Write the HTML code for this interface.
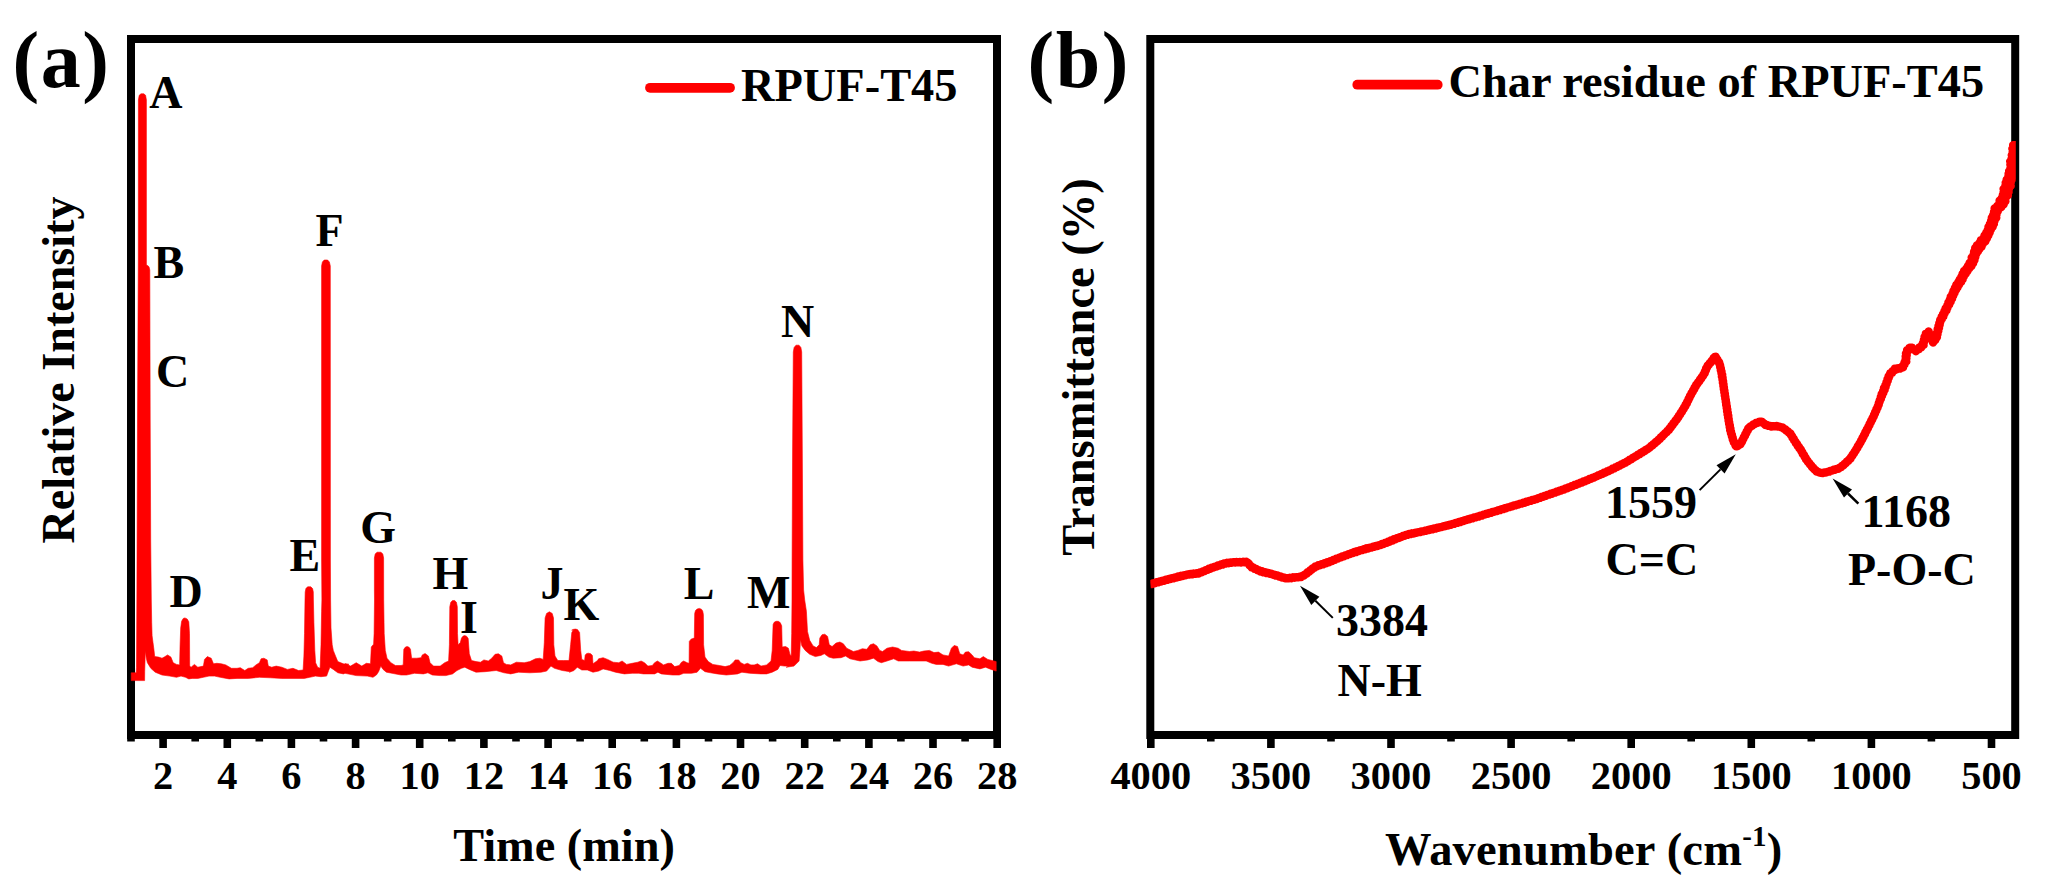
<!DOCTYPE html>
<html lang="en">
<head>
<meta charset="utf-8">
<title>Py-GC/MS chromatogram and FTIR of RPUF-T45 char residue</title>
<style>
html,body{margin:0;padding:0;background:#fff;}
body{width:2055px;height:893px;overflow:hidden;}
svg{display:block;}
text{font-family:"Liberation Serif","Times New Roman",serif;font-weight:bold;fill:#000;}
.tk{font-size:40.4px;text-anchor:middle;}
.lb{font-size:46px;}
.lg{font-size:46.4px;}
.ax{font-size:46.5px;}
.pn{font-size:80px;letter-spacing:1.5px;}
</style>
</head>
<body>
<svg width="2055" height="893" viewBox="0 0 2055 893">
<rect x="0" y="0" width="2055" height="893" fill="#fff"/>

<g id="panel-a">
<rect x="131" y="39" width="866" height="696" fill="none" stroke="#000" stroke-width="8"/>
<path d="M131.0,735 V741.5 M163.1,735 V748 M195.2,735 V741.5 M227.3,735 V748 M259.3,735 V741.5 M291.4,735 V748 M323.5,735 V741.5 M355.6,735 V748 M387.7,735 V741.5 M419.7,735 V748 M451.8,735 V741.5 M483.9,735 V748 M516.0,735 V741.5 M548.1,735 V748 M580.1,735 V741.5 M612.2,735 V748 M644.3,735 V741.5 M676.4,735 V748 M708.5,735 V741.5 M740.5,735 V748 M772.6,735 V741.5 M804.7,735 V748 M836.8,735 V741.5 M868.9,735 V748 M900.9,735 V741.5 M933.0,735 V748 M965.1,735 V741.5 M997.2,735 V748" stroke="#000" stroke-width="7.6" fill="none"/>
<text class="tk" x="163.1" y="789.4">2</text>
<text class="tk" x="227.3" y="789.4">4</text>
<text class="tk" x="291.4" y="789.4">6</text>
<text class="tk" x="355.6" y="789.4">8</text>
<text class="tk" x="419.7" y="789.4">10</text>
<text class="tk" x="483.9" y="789.4">12</text>
<text class="tk" x="548.1" y="789.4">14</text>
<text class="tk" x="612.2" y="789.4">16</text>
<text class="tk" x="676.4" y="789.4">18</text>
<text class="tk" x="740.5" y="789.4">20</text>
<text class="tk" x="804.7" y="789.4">22</text>
<text class="tk" x="868.9" y="789.4">24</text>
<text class="tk" x="933.0" y="789.4">26</text>
<text class="tk" x="997.2" y="789.4">28</text>
<polygon points="131.2,672.8 136.2,672.8 136.5,667.2 136.9,590.0 137.5,420.0 138.3,260.0 138.4,100.0 139.2,95.3 141.0,93.8 143.8,93.8 145.6,95.3 146.4,100.0 146.4,265.0 147.6,265.6 149.0,266.8 149.8,270.0 150.0,350.0 150.2,420.0 150.7,540.0 151.3,600.0 151.7,622.4 152.1,635.8 153.0,642.6 153.9,649.3 154.7,656.6 158.6,657.1 162.0,658.2 164.2,657.1 167.6,654.9 170.9,657.1 173.2,662.7 176.5,664.4 179.6,664.9 180.1,644.8 180.7,628.0 181.6,621.3 183.2,618.5 184.9,617.9 187.2,619.0 188.8,621.8 189.5,633.6 189.7,666.1 191.1,667.2 194.4,664.4 197.8,667.2 203.4,666.1 204.5,659.4 207.3,656.6 211.2,658.2 213.5,663.8 216.8,663.3 221.3,663.8 225.8,664.9 231.4,668.3 237.0,668.3 240.3,667.7 244.8,670.5 248.2,668.3 252.7,667.7 256.0,664.9 259.4,662.7 261.1,658.8 263.9,658.2 267.2,659.9 268.3,666.1 271.7,667.2 276.2,666.1 281.8,667.2 287.4,669.4 293.0,668.3 298.6,670.5 303.1,670.0 303.9,656.0 304.5,633.6 305.0,600.0 305.2,592.0 305.9,588.6 307.6,586.8 310.8,586.8 312.6,588.6 313.3,592.0 313.4,600.0 313.9,622.4 314.8,650.4 315.6,662.7 317.6,667.2 320.1,668.3 321.0,644.8 321.6,611.2 321.9,600.0 321.6,560.0 321.6,266.0 322.4,262.0 324.2,260.0 327.6,260.0 329.4,262.0 330.3,266.0 330.4,560.0 330.6,600.0 331.0,628.0 332.2,644.8 333.3,650.4 335.5,656.0 337.8,661.6 343.4,663.8 349.0,664.4 345.0,663.8 350.6,666.1 356.2,662.7 361.8,666.1 366.3,663.3 370.5,663.8 371.3,647.0 373.6,644.2 374.1,633.6 374.5,600.0 374.4,590.0 374.4,558.0 375.2,554.0 377.0,552.2 381.0,552.2 382.8,554.0 383.6,558.0 383.7,600.0 384.2,633.6 385.3,650.4 387.0,658.2 390.9,662.7 395.4,665.5 401.0,665.5 403.2,664.9 403.8,649.3 405.5,647.0 407.2,646.5 409.1,647.3 410.5,649.3 411.6,658.2 416.7,658.2 421.1,657.7 422.3,654.9 425.1,653.5 428.4,656.0 430.1,662.7 433.5,666.1 440.2,666.1 444.7,662.7 448.6,661.0 449.4,644.8 449.8,606.7 450.8,602.2 452.5,600.6 454.7,600.6 456.4,602.2 457.3,606.7 457.5,633.6 458.1,644.8 460.3,642.6 461.5,638.1 463.1,636.1 464.8,635.6 466.8,636.4 468.2,638.6 469.3,653.8 471.5,660.5 476.0,661.6 480.5,662.2 483.9,659.9 488.3,661.0 491.7,658.2 495.1,654.3 498.4,653.8 501.8,656.0 503.5,662.7 506.3,664.4 510.7,664.9 516.3,662.2 524.2,662.7 529.8,661.6 535.4,658.8 539.8,658.2 543.2,659.4 544.3,642.6 545.1,617.9 546.6,613.4 549.4,611.8 552.2,613.4 553.5,617.9 553.8,644.8 555.0,656.0 557.8,660.5 563.4,660.5 569.0,660.5 570.6,644.8 571.8,632.5 573.4,630.0 571.7,630.2 573.7,629.3 575.6,629.1 577.5,629.6 579.6,632.5 580.7,650.4 581.8,659.4 584.6,660.5 585.2,654.9 586.8,653.5 588.5,653.2 590.8,653.8 592.4,655.4 593.0,663.8 597.5,660.5 598.6,658.8 603.1,657.7 607.6,659.4 613.2,662.2 618.8,662.7 622.1,661.0 626.6,664.4 632.2,663.3 637.8,662.2 641.1,661.0 644.5,662.7 647.9,666.1 652.3,665.5 654.6,662.7 657.4,661.0 660.2,662.7 663.5,664.9 668.0,663.3 671.4,663.3 674.7,666.6 679.2,665.5 681.5,662.2 683.7,661.0 687.1,662.7 689.1,663.3 689.3,641.4 691.0,639.2 692.7,638.6 694.3,638.1 694.7,613.4 695.5,610.6 697.1,609.0 699.4,608.4 701.4,609.2 702.7,611.0 703.4,614.6 703.6,644.8 705.0,657.1 708.3,661.6 712.8,664.4 719.5,665.5 725.1,666.6 729.6,665.5 733.0,662.7 735.2,659.9 738.6,659.9 740.8,662.7 744.2,664.4 747.5,663.3 750.9,664.9 754.2,664.9 757.6,663.8 761.0,666.1 766.6,664.9 771.0,661.0 772.2,650.4 773.1,624.6 774.2,622.2 776.1,621.3 778.3,621.3 780.2,622.6 781.7,625.8 782.2,647.0 785.6,646.5 788.4,648.2 790.1,654.9 791.2,655.4 791.7,633.6 792.0,600.0 792.1,560.0 792.6,450.0 793.3,352.0 794.1,347.5 796.0,345.2 799.0,345.2 800.9,347.5 801.7,352.0 802.3,450.0 802.9,560.0 803.6,590.0 804.7,600.0 806.4,611.2 807.5,631.4 809.7,640.3 813.1,645.9 816.4,647.6 819.2,644.8 819.8,638.1 822.0,634.7 824.8,634.2 827.6,636.4 829.3,644.8 832.1,646.5 836.0,643.1 839.9,642.0 843.3,643.7 846.7,648.2 853.4,651.5 857.9,650.4 862.3,648.7 866.8,649.3 870.2,644.8 873.5,643.7 876.9,645.9 879.7,650.4 882.5,651.5 887.0,648.2 892.6,647.0 898.2,648.2 901.5,650.4 909.4,651.5 913.9,651.0 919.5,652.1 923.9,651.0 929.5,650.4 934.0,652.6 938.5,652.1 943.0,654.9 948.6,656.0 951.4,648.2 954.2,645.4 957.5,646.5 959.8,653.8 963.1,654.9 965.4,652.1 968.7,651.7 972.1,654.9 974.3,657.7 979.9,658.8 983.3,656.6 987.8,659.4 996.2,661.6 996.2,671.1 991.1,669.4 985.5,667.2 979.9,668.9 972.1,667.2 968.7,664.9 963.1,666.1 956.4,663.8 948.6,666.1 943.0,664.4 936.3,664.4 931.8,663.3 926.2,661.0 909.4,661.0 898.2,661.0 893.7,658.8 887.0,661.0 881.4,662.7 878.0,661.6 873.5,658.2 867.9,659.9 860.1,661.0 850.0,658.8 845.5,656.0 841.1,657.7 833.2,658.2 828.8,657.1 824.3,653.8 820.9,655.4 815.3,656.6 809.7,654.3 805.2,650.4 801.9,645.9 800.5,639.8 799.9,650.4 799.1,661.0 794.0,666.1 786.2,667.2 789.0,666.1 784.5,666.1 780.0,665.5 777.8,669.4 772.2,672.2 766.6,673.9 761.0,673.9 749.8,673.3 741.9,672.2 737.5,673.9 726.3,675.0 717.3,673.9 710.6,672.8 705.0,671.7 700.5,668.3 697.1,672.2 691.5,673.3 683.7,673.3 679.2,675.0 672.5,675.0 661.3,673.9 657.9,672.2 654.6,673.9 643.4,673.9 638.9,673.3 632.2,673.3 624.4,673.9 615.4,672.2 609.8,670.5 603.1,668.9 598.6,671.1 593.0,672.2 587.4,670.0 581.8,670.0 577.3,667.2 574.0,670.5 569.5,672.2 570.1,671.7 562.2,670.5 554.4,668.3 551.0,666.1 546.6,671.1 541.0,672.2 529.8,672.8 518.6,672.2 510.7,673.9 504.0,672.8 496.2,670.5 485.0,671.7 476.0,672.2 469.3,669.4 464.8,667.2 461.5,668.3 457.0,670.5 452.5,673.9 445.8,675.6 440.2,675.6 432.3,675.0 427.9,672.8 423.4,673.9 414.4,673.3 406.6,675.0 401.0,675.0 392.0,673.3 386.4,672.2 383.1,669.4 380.8,666.1 378.6,671.7 376.4,675.0 373.0,677.3 367.4,676.1 356.2,675.6 345.0,673.3 343.4,673.9 337.8,672.8 333.3,669.4 329.9,667.2 328.2,671.7 326.6,676.1 321.0,676.7 315.4,676.1 309.8,677.3 304.2,678.4 293.0,678.4 281.8,678.4 270.6,677.8 259.4,677.3 248.2,678.4 237.0,678.4 229.1,678.9 220.2,677.3 214.6,676.1 209.0,676.1 203.4,677.3 197.8,678.4 192.2,678.4 188.8,678.9 185.5,677.3 181.0,676.1 176.5,677.3 169.8,676.1 162.0,675.0 155.2,672.2 150.8,668.3 147.4,662.7 146.3,658.2 145.3,651.0 144.7,671.7 144.6,680.6 131.2,680.6" fill="#ff0000" stroke="#ff0000" stroke-width="0.6" stroke-linejoin="round"/>
<line x1="650" y1="87.8" x2="730" y2="87.8" stroke="#ff0000" stroke-width="9.8" stroke-linecap="round"/>
<text class="lg" id="lega" x="741" y="100.5">RPUF-T45</text>
<text class="lb" id="lA" x="149.2" y="108.1">A</text>
<text class="lb" id="lB" x="153.5" y="278.2">B</text>
<text class="lb" id="lC" x="156" y="387">C</text>
<text class="lb" id="lD" x="169.5" y="606.6">D</text>
<text class="lb" id="lE" x="289.5" y="571.4">E</text>
<text class="lb" id="lF" x="315.5" y="246.3">F</text>
<text class="lb" id="lG" x="360.2" y="543">G</text>
<text class="lb" id="lH" x="432.5" y="589.3">H</text>
<text class="lb" id="lI" x="460" y="632.7">I</text>
<text class="lb" id="lJ" x="540.5" y="598.5">J</text>
<text class="lb" id="lK" x="563.5" y="620.4">K</text>
<text class="lb" id="lL" x="683.7" y="598.8">L</text>
<text class="lb" id="lM" x="747" y="608.3">M</text>
<text class="lb" id="lN" x="780.9" y="337">N</text>
<text class="pn" id="pa" x="12.5" y="87">(a)</text>
<text class="ax" id="xa" style="font-size:46.3px" x="564" y="861" text-anchor="middle">Time (min)</text>
<text class="ax" id="ya" style="font-size:46.1px" transform="translate(74.4,370) rotate(-90)" text-anchor="middle">Relative Intensity</text>
</g>
<g id="panel-b">
<rect x="1150.3" y="39" width="864.9000000000001" height="696" fill="none" stroke="#000" stroke-width="8"/>
<path d="M1150.8,735 V748 M1210.8,735 V741.5 M1270.9,735 V748 M1331.0,735 V741.5 M1391.0,735 V748 M1451.0,735 V741.5 M1511.1,735 V748 M1571.2,735 V741.5 M1631.2,735 V748 M1691.2,735 V741.5 M1751.3,735 V748 M1811.3,735 V741.5 M1871.4,735 V748 M1931.4,735 V741.5 M1991.5,735 V748" stroke="#000" stroke-width="7.6" fill="none"/>
<text class="tk" x="1150.8" y="789.4">4000</text>
<text class="tk" x="1270.9" y="789.4">3500</text>
<text class="tk" x="1391.0" y="789.4">3000</text>
<text class="tk" x="1511.1" y="789.4">2500</text>
<text class="tk" x="1631.2" y="789.4">2000</text>
<text class="tk" x="1751.3" y="789.4">1500</text>
<text class="tk" x="1871.4" y="789.4">1000</text>
<text class="tk" x="1991.5" y="789.4">500</text>
<clipPath id="cb"><rect x="1150.3" y="0" width="865.5000000000001" height="893"/></clipPath>
<path d="M1150.2,584.2 L1151.8,584.0 L1153.2,583.2 L1154.9,583.2 L1156.3,582.3 L1158.0,582.4 L1159.4,581.5 L1161.1,581.5 L1162.5,580.6 L1164.2,580.7 L1165.6,579.8 L1167.3,579.8 L1168.7,579.0 L1170.4,579.1 L1171.8,578.1 L1173.4,578.3 L1174.9,577.4 L1176.6,577.5 L1178.0,576.5 L1179.7,576.8 L1181.1,575.8 L1182.8,576.0 L1184.2,575.1 L1185.9,575.2 L1187.3,574.4 L1189.0,574.6 L1190.5,574.0 L1192.2,574.3 L1193.7,573.5 L1195.3,573.9 L1196.9,573.2 L1198.6,573.5 L1199.9,572.4 L1201.6,572.3 L1202.9,571.3 L1204.5,571.1 L1205.8,570.1 L1207.5,569.9 L1208.8,568.8 L1210.5,568.7 L1211.7,567.6 L1213.4,567.5 L1214.8,566.6 L1216.5,566.6 L1217.8,565.5 L1219.5,565.5 L1220.8,564.5 L1222.5,564.6 L1223.9,563.5 L1225.6,563.6 L1227.0,562.8 L1228.7,563.2 L1230.2,562.5 L1231.9,562.8 L1233.4,562.1 L1235.0,562.5 L1236.6,562.0 L1238.2,562.4 L1239.8,561.9 L1241.4,562.5 L1243.0,561.8 L1244.6,562.4 L1246.3,561.8 L1247.5,562.7 L1248.8,563.5 L1249.4,565.1 L1250.8,566.0 L1251.7,567.4 L1253.4,567.5 L1254.6,568.8 L1256.3,569.0 L1257.5,570.2 L1259.1,570.5 L1260.4,571.6 L1262.1,571.3 L1263.5,572.4 L1265.2,572.2 L1266.6,573.1 L1268.3,572.9 L1269.7,573.8 L1271.4,573.7 L1272.8,574.7 L1274.5,574.7 L1275.9,575.6 L1277.6,575.5 L1278.9,576.5 L1280.6,576.5 L1282.0,577.5 L1283.7,577.4 L1285.1,578.3 L1286.7,578.1 L1288.3,578.4 L1289.8,577.7 L1291.5,578.2 L1293.0,577.3 L1294.7,577.7 L1296.2,577.1 L1297.9,577.4 L1299.4,576.7 L1301.1,577.0 L1302.3,575.8 L1303.9,575.5 L1305.1,574.3 L1306.6,573.7 L1307.6,572.3 L1309.2,571.8 L1310.1,570.4 L1311.6,569.7 L1312.6,568.4 L1314.2,567.8 L1315.2,566.4 L1316.9,566.5 L1318.2,565.3 L1319.9,565.3 L1321.3,564.3 L1323.0,564.3 L1324.3,563.3 L1326.0,563.3 L1327.3,562.1 L1329.0,562.2 L1330.3,561.1 L1332.0,561.0 L1333.3,559.9 L1335.0,559.8 L1336.3,558.7 L1337.9,558.6 L1339.3,557.6 L1340.9,557.4 L1342.2,556.4 L1343.9,556.3 L1345.2,555.3 L1346.9,555.1 L1348.3,554.2 L1349.9,554.1 L1351.3,553.1 L1352.9,553.0 L1354.3,552.0 L1356.0,552.1 L1357.3,551.1 L1359.0,551.0 L1360.4,550.1 L1362.1,550.1 L1363.5,549.3 L1365.2,549.4 L1366.5,548.3 L1368.2,548.5 L1369.6,547.6 L1371.3,547.6 L1372.7,546.8 L1374.4,546.8 L1375.8,545.9 L1377.5,546.0 L1378.9,545.1 L1380.6,545.1 L1381.9,544.0 L1383.6,544.0 L1384.9,543.0 L1386.6,542.8 L1387.9,541.8 L1389.6,541.7 L1390.8,540.5 L1392.6,540.5 L1393.8,539.3 L1395.5,539.3 L1396.8,538.2 L1398.5,538.1 L1399.8,537.1 L1401.5,537.0 L1402.8,536.0 L1404.5,535.8 L1405.8,534.9 L1407.5,534.8 L1408.9,534.0 L1410.6,534.1 L1412.0,533.3 L1413.7,533.5 L1415.2,532.7 L1416.8,532.7 L1418.3,532.1 L1420.0,532.1 L1421.5,531.4 L1423.1,531.4 L1424.6,530.8 L1426.2,530.7 L1427.7,530.0 L1429.3,530.1 L1430.8,529.3 L1432.5,529.3 L1433.9,528.5 L1435.6,528.6 L1437.0,527.8 L1438.7,527.8 L1440.1,527.1 L1441.8,527.0 L1443.3,526.3 L1444.9,526.3 L1446.4,525.5 L1448.0,525.6 L1449.5,524.8 L1451.1,524.7 L1452.5,523.9 L1454.2,523.8 L1455.6,523.0 L1457.3,522.9 L1458.7,522.0 L1460.3,522.0 L1461.7,521.2 L1463.4,521.0 L1464.8,520.2 L1466.4,520.1 L1467.9,519.3 L1469.5,519.3 L1470.9,518.4 L1472.6,518.3 L1474.0,517.5 L1475.7,517.4 L1477.1,516.6 L1478.7,516.5 L1480.1,515.7 L1481.8,515.6 L1483.2,514.7 L1484.8,514.6 L1486.3,513.8 L1487.9,513.8 L1489.3,512.9 L1491.0,512.8 L1492.4,512.0 L1494.0,511.9 L1495.5,511.1 L1497.1,511.0 L1498.5,510.1 L1500.2,510.0 L1501.6,509.2 L1503.2,509.1 L1504.6,508.2 L1506.3,508.2 L1507.7,507.4 L1509.3,507.2 L1510.8,506.5 L1512.4,506.3 L1513.8,505.5 L1515.5,505.4 L1516.9,504.6 L1518.5,504.5 L1520.0,503.6 L1521.6,503.6 L1523.0,502.8 L1524.7,502.7 L1526.1,501.8 L1527.7,501.7 L1529.1,500.9 L1530.8,500.8 L1532.2,500.0 L1533.9,499.9 L1535.3,499.1 L1536.9,499.0 L1538.3,498.1 L1539.9,497.9 L1541.3,497.0 L1543.0,496.8 L1544.4,496.0 L1546.0,495.8 L1547.4,494.9 L1549.0,494.7 L1550.4,493.8 L1552.0,493.7 L1553.4,492.8 L1555.0,492.6 L1556.4,491.7 L1558.1,491.5 L1559.5,490.7 L1561.1,490.5 L1562.5,489.6 L1564.1,489.5 L1565.5,488.5 L1567.2,488.4 L1568.5,487.4 L1570.1,487.2 L1571.5,486.2 L1573.1,486.0 L1574.4,485.0 L1576.1,484.8 L1577.4,483.9 L1579.0,483.6 L1580.4,482.6 L1582.0,482.5 L1583.3,481.4 L1585.0,481.3 L1586.3,480.3 L1587.9,480.1 L1589.3,479.0 L1590.9,478.9 L1592.3,477.9 L1593.9,477.6 L1595.2,476.7 L1596.8,476.3 L1598.1,475.4 L1599.7,475.0 L1601.0,474.1 L1602.7,473.8 L1604.0,472.7 L1605.6,472.5 L1606.9,471.5 L1608.5,471.2 L1609.8,470.2 L1611.4,469.8 L1612.6,468.7 L1614.3,468.4 L1615.5,467.3 L1617.1,466.9 L1618.4,465.9 L1620.0,465.6 L1621.2,464.4 L1622.8,464.1 L1624.1,463.0 L1625.7,462.6 L1626.9,461.4 L1628.4,460.9 L1629.6,459.8 L1631.2,459.3 L1632.4,458.1 L1633.9,457.6 L1635.1,456.4 L1636.6,455.9 L1637.8,454.8 L1639.4,454.3 L1640.5,453.1 L1642.1,452.6 L1643.2,451.4 L1644.8,450.9 L1645.9,449.7 L1647.5,449.2 L1648.7,448.1 L1650.1,447.3 L1651.1,446.0 L1652.6,445.2 L1653.6,443.9 L1655.0,443.2 L1655.9,441.8 L1657.5,441.1 L1658.4,439.8 L1659.8,438.9 L1660.7,437.5 L1662.1,436.7 L1662.9,435.3 L1664.3,434.4 L1665.3,433.0 L1666.6,432.2 L1667.5,430.8 L1668.9,429.9 L1669.6,428.4 L1670.9,427.4 L1671.5,425.8 L1672.8,424.8 L1673.4,423.3 L1674.7,422.2 L1675.4,420.7 L1676.7,419.7 L1677.3,418.2 L1678.5,417.1 L1679.0,415.5 L1680.2,414.4 L1680.8,412.8 L1681.9,411.7 L1682.5,410.1 L1683.6,408.9 L1684.2,407.4 L1685.3,406.2 L1685.7,404.6 L1686.8,403.4 L1687.2,401.8 L1688.2,400.5 L1688.6,398.9 L1689.6,397.6 L1690.0,396.0 L1691.0,394.8 L1691.5,393.2 L1692.6,392.0 L1693.1,390.4 L1694.2,389.2 L1694.6,387.6 L1695.7,386.4 L1696.2,384.8 L1697.4,383.7 L1698.1,382.2 L1699.3,381.2 L1700.0,379.6 L1701.2,378.6 L1701.8,377.0 L1703.0,375.9 L1703.6,374.4 L1704.7,373.2 L1704.9,371.5 L1705.9,370.2 L1706.1,368.5 L1707.1,367.3 L1707.6,365.7 L1708.9,364.7 L1709.7,363.3 L1711.0,362.2 L1711.7,360.8 L1712.9,359.7 L1713.6,358.2 L1714.8,357.1 L1715.7,356.8 L1716.3,358.4 L1717.4,359.5 L1717.8,361.2 L1719.1,362.3 L1719.5,363.9 L1720.1,365.3 L1720.2,367.0 L1720.8,368.4 L1720.8,370.1 L1721.5,371.6 L1721.5,373.2 L1722.2,374.7 L1721.9,376.4 L1722.6,377.9 L1722.5,379.5 L1723.1,381.1 L1722.9,382.7 L1723.5,384.2 L1723.4,385.9 L1723.9,387.4 L1723.8,389.0 L1724.4,390.6 L1724.3,392.2 L1724.9,393.7 L1724.8,395.4 L1725.3,396.9 L1725.3,398.5 L1725.8,400.1 L1725.8,401.7 L1726.3,403.2 L1726.2,404.9 L1726.8,406.4 L1726.7,408.0 L1727.3,409.5 L1727.1,411.2 L1727.8,412.7 L1727.6,414.4 L1728.3,415.9 L1728.1,417.5 L1728.7,419.0 L1728.6,420.7 L1729.2,422.2 L1729.1,423.8 L1729.8,425.3 L1729.7,427.0 L1730.4,428.5 L1730.2,430.2 L1731.0,431.6 L1731.0,433.3 L1731.9,434.7 L1731.9,436.3 L1732.7,437.8 L1732.8,439.4 L1733.6,440.8 L1733.9,442.4 L1735.1,443.6 L1735.4,445.3 L1736.4,446.4 L1737.6,446.2 L1738.7,445.0 L1740.3,444.4 L1741.0,442.9 L1742.0,441.6 L1742.4,440.1 L1743.4,438.8 L1743.8,437.2 L1744.9,435.9 L1745.3,434.3 L1746.3,433.1 L1746.7,431.5 L1747.8,430.2 L1748.2,428.6 L1749.4,427.6 L1750.5,426.4 L1752.0,425.8 L1753.1,424.6 L1754.7,424.1 L1755.9,423.0 L1757.6,422.8 L1758.9,421.9 L1760.5,421.6 L1761.9,421.6 L1762.9,422.9 L1764.4,423.7 L1765.4,425.1 L1767.1,425.0 L1768.5,425.9 L1770.1,425.9 L1771.6,426.6 L1773.2,426.1 L1774.9,426.4 L1776.5,425.9 L1778.0,426.5 L1779.6,426.6 L1781.1,427.4 L1782.7,427.5 L1783.8,428.7 L1785.3,429.4 L1786.4,430.6 L1787.8,431.4 L1788.9,432.6 L1790.4,433.4 L1790.9,434.9 L1792.1,436.1 L1792.5,437.7 L1793.7,438.8 L1794.2,440.4 L1795.4,441.6 L1795.9,443.1 L1797.1,444.2 L1797.7,445.8 L1798.9,446.9 L1799.5,448.4 L1800.8,449.5 L1801.3,451.1 L1802.3,452.3 L1802.8,453.9 L1804.0,455.0 L1804.5,456.6 L1805.6,457.8 L1806.1,459.4 L1807.3,460.5 L1808.0,462.0 L1809.3,463.0 L1810.0,464.5 L1811.3,465.5 L1811.9,467.0 L1813.3,467.9 L1814.2,469.3 L1815.7,470.1 L1816.5,471.6 L1818.2,471.8 L1819.6,472.6 L1821.2,472.8 L1822.8,473.0 L1824.3,472.5 L1826.0,472.6 L1827.4,471.9 L1829.1,471.7 L1830.4,470.8 L1832.0,470.6 L1833.4,469.8 L1835.1,469.7 L1836.5,468.9 L1838.2,468.9 L1839.4,467.8 L1840.9,467.2 L1842.0,465.9 L1843.5,465.3 L1844.5,463.9 L1845.9,463.1 L1846.8,461.7 L1848.2,460.9 L1849.0,459.5 L1850.5,458.6 L1851.0,457.1 L1852.2,455.9 L1852.8,454.4 L1854.0,453.2 L1854.6,451.7 L1855.7,450.6 L1856.3,449.0 L1857.4,447.8 L1857.8,446.2 L1859.0,445.0 L1859.5,443.5 L1860.6,442.3 L1861.1,440.7 L1862.2,439.5 L1862.5,437.9 L1863.7,436.6 L1864.0,435.0 L1865.1,433.8 L1865.4,432.1 L1866.5,430.9 L1866.9,429.3 L1868.0,428.1 L1868.4,426.5 L1869.4,425.2 L1869.7,423.6 L1870.8,422.3 L1871.2,420.7 L1872.2,419.5 L1872.6,417.9 L1873.7,416.6 L1874.0,415.0 L1874.9,413.7 L1875.2,412.0 L1876.2,410.7 L1876.5,409.1 L1877.5,407.8 L1877.8,406.2 L1878.7,404.8 L1878.8,403.1 L1879.6,401.7 L1879.8,400.1 L1880.9,398.8 L1880.8,397.0 L1882.0,395.8 L1881.7,394.0 L1883.3,392.9 L1883.1,391.1 L1884.6,389.9 L1884.0,388.0 L1885.6,386.9 L1885.4,385.1 L1886.6,383.9 L1886.5,382.1 L1887.7,380.9 L1887.5,379.1 L1888.8,377.8 L1888.6,376.1 L1889.9,375.0 L1890.2,373.2 L1892.1,372.8 L1892.6,371.0 L1894.3,370.5 L1894.9,368.6 L1896.8,369.2 L1898.2,368.1 L1899.9,368.6 L1901.3,367.7 L1903.0,367.3 L1903.0,365.4 L1904.5,364.4 L1904.4,362.6 L1906.2,361.6 L1905.5,359.8 L1906.4,358.3 L1905.7,356.6 L1906.7,355.1 L1906.0,353.4 L1907.1,352.1 L1907.1,350.3 L1909.0,349.7 L1909.3,347.9 L1910.6,347.6 L1912.2,347.7 L1913.0,349.5 L1914.9,349.5 L1915.9,351.2 L1917.0,349.8 L1918.7,349.3 L1919.3,347.5 L1921.2,347.3 L1921.6,345.5 L1923.5,344.9 L1923.0,343.0 L1924.2,341.6 L1923.9,339.9 L1925.1,338.6 L1924.6,336.8 L1926.1,335.6 L1925.9,333.7 L1927.8,333.2 L1928.7,331.4 L1928.8,333.5 L1930.3,334.6 L1930.2,336.4 L1931.7,337.5 L1931.5,339.3 L1933.1,340.4 L1933.0,342.5 L1933.8,340.9 L1935.3,340.1 L1935.6,338.5 L1936.9,337.2 L1936.3,335.4 L1937.5,334.1 L1937.1,332.4 L1938.3,331.0 L1937.7,329.2 L1939.0,327.9 L1938.5,326.1 L1939.7,324.7 L1939.3,323.0 L1940.4,321.6 L1940.2,319.9 L1941.9,318.9 L1941.6,316.9 L1943.4,316.1 L1943.0,314.1 L1944.7,313.1 L1944.4,311.2 L1946.4,310.4 L1945.7,308.3 L1947.6,307.4 L1947.3,305.5 L1949.1,304.6 L1948.4,302.5 L1950.6,301.8 L1949.9,299.7 L1952.0,298.9 L1950.8,296.6 L1953.1,295.8 L1952.5,293.8 L1954.4,292.9 L1953.5,290.8 L1955.9,290.1 L1954.9,287.9 L1957.5,287.5 L1956.3,284.9 L1959.0,284.7 L1958.2,282.3 L1961.0,282.1 L1959.7,279.5 L1962.6,279.4 L1961.4,276.8 L1963.9,276.4 L1962.6,273.8 L1965.7,273.7 L1964.1,270.9 L1967.5,271.1 L1966.4,268.4 L1969.2,268.5 L1968.1,265.7 L1971.4,266.2 L1969.6,262.9 L1973.1,263.3 L1971.3,260.7 L1974.4,260.1 L1971.7,257.6 L1975.3,257.0 L1973.5,254.8 L1976.2,254.0 L1974.1,251.6 L1977.9,251.4 L1975.2,248.1 L1979.4,249.1 L1977.0,245.3 L1981.5,246.7 L1979.4,243.1 L1982.9,243.7 L1980.9,240.2 L1985.3,241.4 L1983.3,238.2 L1986.9,238.5 L1984.6,235.3 L1988.3,235.6 L1986.3,232.6 L1989.7,232.5 L1987.7,230.0 L1990.9,229.5 L1988.5,226.8 L1992.7,226.8 L1989.9,223.9 L1993.9,223.9 L1991.1,220.9 L1994.6,220.7 L1991.8,217.8 L1996.3,217.8 L1993.1,215.1 L1996.5,214.4 L1994.0,212.0 L1997.7,211.4 L1994.6,208.4 L1998.7,209.1 L1997.3,205.9 L2001.3,207.1 L1999.3,203.3 L2003.6,204.4 L1999.6,200.7 L2005.4,201.3 L2001.7,198.2 L2005.6,197.9 L2002.8,195.2 L2007.9,195.3 L2003.6,192.2 L2008.6,192.0 L2003.6,188.9 L2009.0,188.7 L2005.3,186.0 L2010.7,185.9 L2005.7,182.7 L2010.7,182.7 L2006.7,179.6 L2011.8,179.7 L2008.3,176.8 L2012.5,176.5 L2008.6,173.9 L2014.5,173.3 L2009.2,170.9 L2015.0,170.2 L2010.5,167.9 L2014.5,166.9 L2010.4,164.6 L2016.0,163.8 L2010.2,161.3 L2015.7,160.6 L2011.7,158.3 L2016.2,157.4 L2011.8,155.1 L2017.4,154.3 L2012.7,152.0 L2017.7,151.1 L2012.4,148.7 L2018.1,148.2 L2013.2,145.1 L2018.8,145.5 L2016.4,144.5" fill="none" stroke="#ff0000" stroke-width="8.4" stroke-linejoin="round" stroke-linecap="butt" clip-path="url(#cb)"/>
<line x1="1357.3" y1="84.7" x2="1437.7" y2="84.7" stroke="#ff0000" stroke-width="9.8" stroke-linecap="round"/>
<text class="lg" id="legb" x="1448.5" y="96.8">Char residue of RPUF-T45</text>
<line x1="1332.8" y1="617.9" x2="1315.4" y2="600.8" stroke="#000" stroke-width="2"/><polygon points="1300.0,585.8 1319.4,596.7 1311.3,604.9" fill="#000"/>
<line x1="1699.6" y1="490.1" x2="1720.5" y2="469.4" stroke="#000" stroke-width="2"/><polygon points="1735.8,454.3 1724.6,473.5 1716.5,465.3" fill="#000"/>
<line x1="1858.4" y1="503.6" x2="1848.0" y2="493.5" stroke="#000" stroke-width="2.5"/><polygon points="1832.6,478.5 1852.0,489.4 1844.0,497.6" fill="#000"/>
<text class="lb" id="t3384" x="1336" y="636.2">3384</text>
<text class="lb" id="tNH" x="1337.5" y="695.6">N-H</text>
<text class="lb" id="t1559" x="1605" y="518">1559</text>
<text class="lb" id="tCC" x="1605.5" y="575">C=C</text>
<text class="lb" id="t1168" x="1861.5" y="527.2">1168</text>
<text class="lb" id="tPOC" x="1848" y="585.3">P-O-C</text>
<text class="pn" id="pb" x="1027.5" y="87">(b)</text>
<text class="ax" id="xb" style="letter-spacing:0.2px" x="1385" y="865">Wavenumber (cm<tspan font-size="29" dy="-19">-1</tspan><tspan dy="19">)</tspan></text>
<text class="ax" id="yb" transform="translate(1093.5,367) rotate(-90)" text-anchor="middle">Transmittance (%)</text>
</g>
</svg>
</body>
</html>
